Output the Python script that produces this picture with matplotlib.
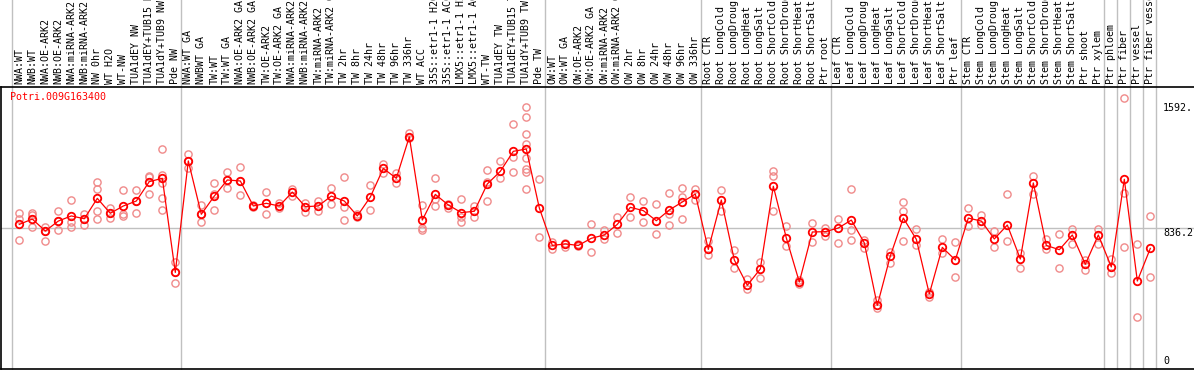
import matplotlib
matplotlib.use("Agg")
import matplotlib.pyplot as plt
import matplotlib.transforms as mtransforms

# Sample labels, in groups (gray separator lines fall between groups)
group_nw = ["NWA:WT", "NWB:WT", "NWA:OE-ARK2", "NWB:OE-ARK2", "NWA:miRNA-ARK2",
            "NWB:miRNA-ARK2", "NW 0hr", "WT H2O", "WT-NW", "TUA1dEY NW",
            "TUA1dEY+TUB15 NW", "TUA1dY+TUB9 NW", "Pde NW"]
group_tw = ["NWA:WT GA", "NWBWT GA", "TW:WT", "TW:WT GA", "NWA:OE-ARK2 GA",
            "NWB:OE-ARK2 GA", "TW:OE-ARK2", "TW:OE-ARK2 GA", "NWA:miRNA-ARK2 GA",
            "NWB:miRNA-ARK2 GA", "TW:miRNA-ARK2", "TW:miRNA-ARK2 GA", "TW 2hr",
            "TW 8hr", "TW 24hr", "TW 48hr", "TW 96hr", "TW 336hr", "WT ACC",
            "35S::etr1-1 H2O", "35S::etr1-1 ACC", "LMX5::etr1-1 H2O",
            "LMX5::etr1-1 ACC", "WT-TW", "TUA1dEY TW", "TUA1dEY+TUB15 TW",
            "TUA1dY+TUB9 TW", "Pde TW"]
group_ow = ["OW:WT", "OW:WT GA", "OW:OE-ARK2", "OW:OE-ARK2 GA", "OW:miRNA-ARK2",
            "OW:miRNA-ARK2 GA", "OW 2hr", "OW 8hr", "OW 24hr", "OW 48hr",
            "OW 96hr", "OW 336hr"]
group_root = ["Root CTR", "Root LongCold", "Root LongDrought", "Root LongHeat",
              "Root LongSalt", "Root ShortCold", "Root ShortDrought",
              "Root ShortHeat", "Root ShortSalt", "Ptr root"]
group_leaf = ["Leaf CTR", "Leaf LongCold", "Leaf LongDrought", "Leaf LongHeat",
              "Leaf LongSalt", "Leaf ShortCold", "Leaf ShortDrought",
              "Leaf ShortHeat", "Leaf ShortSalt", "Ptr leaf"]
group_stem = ["Stem CTR", "Stem LongCold", "Stem LongDrought", "Stem LongHeat",
              "Stem LongSalt", "Stem ShortCold", "Stem ShortDrought",
              "Stem ShortHeat", "Stem ShortSalt", "Ptr shoot", "Ptr xylem"]
group_phloem = ["Ptr phloem"]
group_fiber = ["Ptr fiber"]
group_vessel = ["Ptr vessel"]
group_fv = ["Ptr fiber vessel"]

groups = [group_nw, group_tw, group_ow, group_root, group_leaf, group_stem,
          group_phloem, group_fiber, group_vessel, group_fv]
labels = [s for g in groups for s in g]

# mean expression per sample
means = [858, 890, 818, 878, 909, 892, 1015, 925, 969, 999, 1116, 1136, 568,
         1241, 919, 1029, 1126, 1120, 969, 985, 969, 1053, 965, 969, 1029, 999,
         909, 1023, 1196, 1136, 1387, 884, 1039, 975, 929, 937, 1102, 1178, 1299,
         1313, 957,
         731, 740, 731, 774, 794, 858, 961, 941, 880, 945, 993, 1041,
         707, 1005, 643, 490, 589, 1088, 776, 510, 812, 814,
         836, 884, 746, 369, 667, 896, 768, 438, 719, 643,
         896, 878, 770, 854, 649, 1108, 731, 705, 794, 617, 794,
         601, 1130, 516, 713]

# replicate values per sample
reps = [[925, 892, 762], [925, 915, 840], [844, 756, 818], [939, 824, 878],
        [1005, 874, 844], [919, 854, 892], [1112, 1070, 939, 888], [955, 898, 925],
        [1066, 919, 911], [1066, 925, 999], [1150, 1039, 1142],
        [1311, 1156, 1106, 1015, 945], [629, 504, 568],
        [1283, 1200, 1241], [975, 870, 919], [1106, 1041, 945], [1174, 1080, 1126],
        [1202, 1033, 1120], [975, 961], [1053, 919], [985, 955], [1070, 1029],
        [989, 935], [1001, 941], [1076, 979], [1142, 965, 884], [919, 905],
        [1094, 945], [1222, 1166], [1166, 1106], [1408, 1377], [975, 834, 824],
        [1136, 1011, 967], [981, 955], [1011, 905, 874], [971, 903],
        [1186, 1116, 999], [1239, 1136], [1464, 1267, 1174],
        [1565, 1504, 1402, 1343, 1257, 1192, 1176, 1072], [1132, 780],
        [754, 711], [748, 723], [740, 725], [858, 689], [824, 768], [901, 808],
        [1021, 901], [997, 870], [979, 798], [1045, 919, 852], [1078, 1021, 888],
        [1074, 1005],
        [758, 675], [1066, 941], [703, 597], [528, 466], [633, 532],
        [1182, 1152, 939], [848, 727], [496, 520], [864, 750], [838, 788],
        [892, 744], [1072, 824, 764], [764, 713], [401, 351], [693, 627],
        [991, 937, 758], [828, 731], [422, 450], [768, 683], [750, 538],
        [955, 848], [917, 854], [816, 723], [1039, 758], [683, 595], [1150, 1041],
        [772, 711], [800, 595], [828, 738], [583, 640], [828, 740],
        [651, 564], [1619, 1049, 719], [740, 297], [909, 540]]

gene = "Potri.009G163400"
mid_value = 836.2
top_value = 1592
top_label = "1592."

W, H = 1194, 370
fig = plt.figure(figsize=(W / 100, H / 100), dpi=100)
ax = fig.add_axes([1 / W, 1 / H, 1193 / W, 282 / H])

x = list(range(len(labels)))

# replicates
for i, r in enumerate(reps):
    ax.plot([i] * len(r), r, linestyle="none", marker="o", markersize=5.2,
            markerfacecolor="none", markeredgecolor="#f08a8a", markeredgewidth=1.0)

# mean line
ax.plot(x, means, color="red", linewidth=0.9, marker="o", markersize=5.4,
        markerfacecolor="none", markeredgecolor="red", markeredgewidth=1.3, zorder=3)

ax.set_xlim(-1.408, 90.36)
ax.set_ylim(-15.1, 1687.3)

# horizontal reference line
ax.axhline(mid_value, color="#c0c0c0", linewidth=1.0, zorder=0)

# group separators (extend up through the label area)
ax.axvline(-0.6, ymin=0, ymax=1.31, color="#c0c0c0", linewidth=1.0,
           clip_on=False, zorder=0)
pos = -1
for g in groups:
    pos += len(g)
    ax.axvline(pos + 0.4, ymin=0, ymax=1.31, color="#c0c0c0", linewidth=1.0,
               clip_on=False, zorder=0)

ax.set_xticks([])
ax.set_yticks([])
ax.spines["right"].set_visible(False)
for s in ["top", "bottom", "left"]:
    ax.spines[s].set_linewidth(1.2)

mono = "DejaVu Sans Mono"
trans = mtransforms.blended_transform_factory(ax.transData, ax.transAxes)
for i, lab in enumerate(labels):
    ax.text(i, 1.011, lab, rotation=90, ha="center", va="bottom",
            fontsize=7.2, family=mono, transform=trans, clip_on=False)

ax.text(0.0075, 0.966, gene, color="red", fontsize=7.2, family=mono,
        ha="left", va="center", transform=ax.transAxes)

trans_r = mtransforms.blended_transform_factory(ax.transAxes, ax.transData)
ax.text(0.974, top_value, top_label, fontsize=7.2, family=mono, va="top",
        ha="left", transform=trans_r, clip_on=False)
ax.text(0.974, mid_value, "%.1f" % mid_value, fontsize=7.2, family=mono,
        va="top", ha="left", transform=trans_r, clip_on=False)
ax.text(0.974, 0, "0", fontsize=7.2, family=mono, va="bottom", ha="left",
        transform=trans_r, clip_on=False)

fig.savefig("out.png", dpi=100)
